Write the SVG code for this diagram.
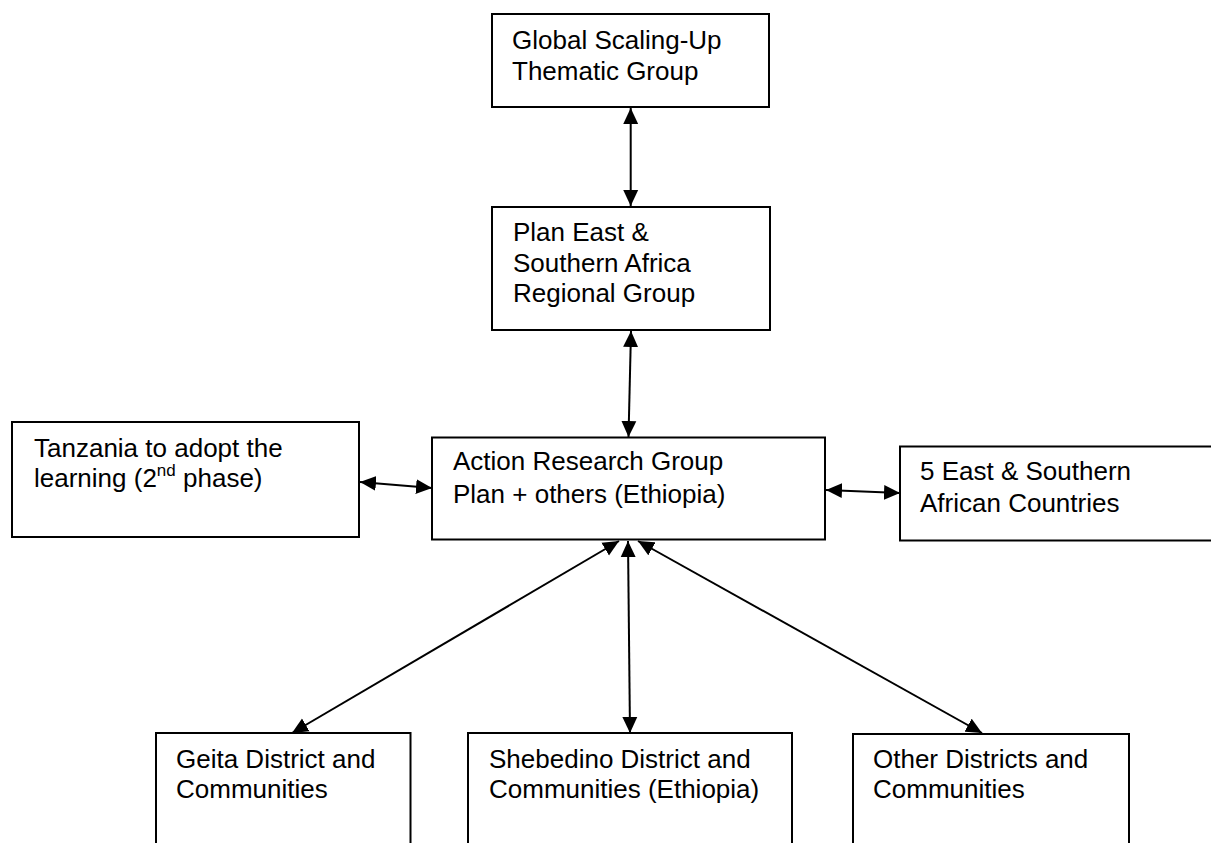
<svg xmlns="http://www.w3.org/2000/svg" width="1211" height="843" viewBox="0 0 1211 843">
<style>
.box{fill:#fff;stroke:#000;stroke-width:2}
.lbl{font-family:"Liberation Sans",Arial,sans-serif;font-size:26px;fill:#000}
.con{stroke:#000;stroke-width:2;fill:none;marker-start:url(#ah);marker-end:url(#ah)}
</style>
<defs>
<marker id="ah" markerUnits="userSpaceOnUse" markerWidth="16" markerHeight="16" viewBox="0 0 15 14" refX="15" refY="7" orient="auto-start-reverse">
<path d="M0,0 L15,7 L0,14 z" fill="#000"/>
</marker>
</defs>
<rect width="1211" height="843" fill="#fff"/>
<g id="connectors">
<line class="con" x1="630.7" y1="108" x2="630.7" y2="206"/>
<line class="con" x1="631" y1="331" x2="628.5" y2="437"/>
<line class="con" x1="360" y1="482" x2="432" y2="488"/>
<line class="con" x1="826" y1="490" x2="900" y2="493"/>
<line class="con" x1="619" y1="541" x2="292" y2="733"/>
<line class="con" x1="628" y1="541" x2="630" y2="733"/>
<line class="con" x1="638" y1="541" x2="982" y2="733"/>
</g>
<g id="global">
<rect class="box" x="492" y="14" width="277" height="93"/>
<text class="lbl" x="512" y="49">Global Scaling-Up</text>
<text class="lbl" x="512" y="80">Thematic Group</text>
</g>
<g id="plan">
<rect class="box" x="492" y="207" width="278" height="123"/>
<text class="lbl" x="513" y="241">Plan East &amp;</text>
<text class="lbl" x="513" y="272">Southern Africa</text>
<text class="lbl" x="513" y="302">Regional Group</text>
</g>
<g id="tanzania">
<rect class="box" x="12" y="422" width="347" height="115"/>
<text class="lbl" x="34" y="457">Tanzania to adopt the</text>
<text class="lbl" x="34" y="487">learning (2<tspan font-size="17" dy="-11">nd</tspan><tspan dy="11"> phase)</tspan></text>
</g>
<g id="action">
<rect class="box" x="432" y="437.5" width="393" height="102"/>
<text class="lbl" x="453" y="470">Action Research Group</text>
<text class="lbl" x="453" y="503">Plan + others (Ethiopia)</text>
</g>
<g id="east">
<rect class="box" x="900" y="446.5" width="320" height="94"/>
<text class="lbl" x="920" y="480">5 East &amp; Southern</text>
<text class="lbl" x="920" y="512">African Countries</text>
</g>
<g id="geita">
<rect class="box" x="156" y="733" width="254.5" height="150"/>
<text class="lbl" x="176" y="768">Geita District and</text>
<text class="lbl" x="176" y="798">Communities</text>
</g>
<g id="shebedino">
<rect class="box" x="468" y="733" width="324" height="150"/>
<text class="lbl" x="489" y="768">Shebedino District and</text>
<text class="lbl" x="489" y="798">Communities (Ethiopia)</text>
</g>
<g id="other">
<rect class="box" x="853" y="734" width="276" height="150"/>
<text class="lbl" x="873" y="768">Other Districts and</text>
<text class="lbl" x="873" y="798">Communities</text>
</g>
</svg>
